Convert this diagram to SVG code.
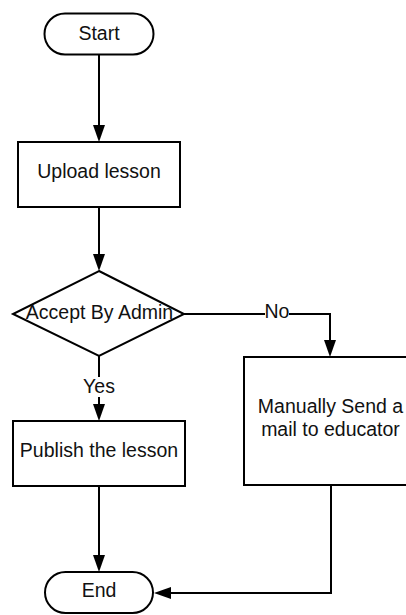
<svg xmlns="http://www.w3.org/2000/svg" width="406" height="615" viewBox="0 0 406 615">
  <style>
    .shape { fill: #ffffff; stroke: #000000; stroke-width: 2; }
    .edge { fill: none; stroke: #000000; stroke-width: 2; }
    .label { font-family: "Liberation Sans", Arial, sans-serif; font-size: 19.5px; fill: #111111; text-anchor: middle; }
    .tag { fill: #ffffff; stroke: none; }
  </style>
  <defs>
    <!-- arrowhead: tip sits 10px beyond the path end so the stroke never pokes through -->
    <marker id="arrow" markerUnits="userSpaceOnUse" markerWidth="18" markerHeight="12" refX="7" refY="6" orient="auto">
      <path d="M0,0 L17,6 L0,12 z" fill="#000000"/>
    </marker>
  </defs>

  <rect width="406" height="615" fill="#ffffff"/>

  <!-- connectors -->
  <g id="connectors">
    <path class="edge" d="M99,55 V132" marker-end="url(#arrow)"/>
    <path class="edge" d="M99,207 V261" marker-end="url(#arrow)"/>
    <path class="edge" d="M184,314 H330 V347" marker-end="url(#arrow)"/>
    <path class="edge" d="M99,356 V411" marker-end="url(#arrow)"/>
    <path class="edge" d="M99,486 V562" marker-end="url(#arrow)"/>
    <path class="edge" d="M331,485 V593 H164" marker-end="url(#arrow)"/>
    <g id="edge-labels">
      <rect class="tag" x="265" y="304" width="24" height="20"/>
      <text class="label" x="277" y="318">No</text>
      <rect class="tag" x="82" y="377" width="34" height="20"/>
      <text class="label" x="99" y="393">Yes</text>
    </g>
  </g>

  <!-- nodes -->
  <g id="start">
    <rect class="shape" x="44.5" y="13.5" width="109" height="41" rx="20.5" ry="20.5"/>
    <text class="label" x="99" y="40">Start</text>
  </g>

  <g id="upload">
    <rect class="shape" x="18" y="142" width="162" height="65"/>
    <text class="label" x="99" y="178">Upload lesson</text>
  </g>

  <g id="accept">
    <polygon class="shape" points="99,271 184,314 99,356 13,314"/>
    <text class="label" x="99.5" y="318.5">Accept By Admin</text>
  </g>

  <g id="publish">
    <rect class="shape" x="13" y="421" width="172" height="65"/>
    <text class="label" x="99" y="457">Publish the lesson</text>
  </g>

  <g id="mail">
    <rect class="shape" x="244" y="357" width="173" height="128"/>
    <text class="label" x="330.5" y="413">Manually Send a</text>
    <text class="label" x="330.5" y="436">mail to educator</text>
  </g>

  <g id="end">
    <rect class="shape" x="45" y="572" width="108" height="41" rx="20.5" ry="20.5"/>
    <text class="label" x="99" y="597">End</text>
  </g>
</svg>
